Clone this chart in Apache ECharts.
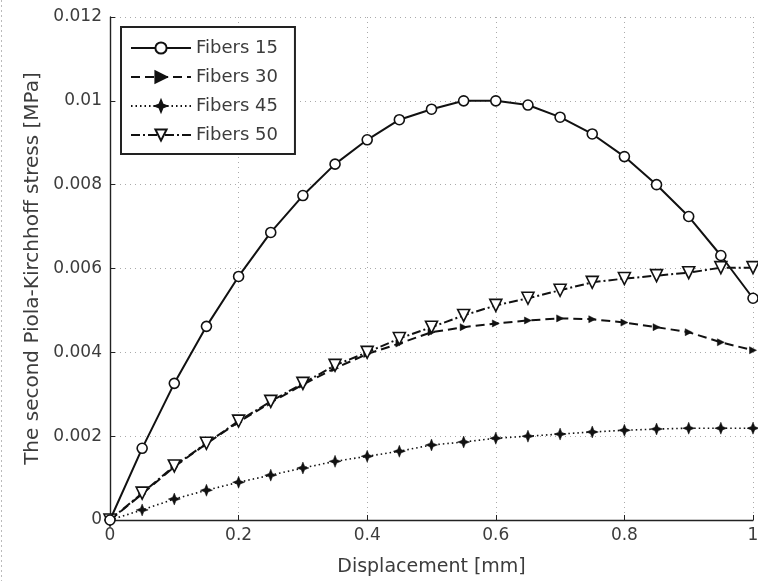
<!DOCTYPE html>
<html>
<head>
<meta charset="utf-8">
<style>html,body{margin:0;padding:0;background:#fff}#c{width:758px;height:581px}</style>
<script src="https://cdn.jsdelivr.net/npm/echarts@6/dist/echarts.min.js"></script>
</head>
<body>
<div id="c"></div>
<script>
var displacement = [0,0.05,0.1,0.15,0.2,0.25,0.3,0.35,0.4,0.45,0.5,0.55,0.6,0.65,0.7,0.75,0.8,0.85,0.9,0.95,1];
var fibers15 = [0,0.00171,0.00326,0.00462,0.00581,0.00686,0.00774,0.00849,0.00907,0.00955,0.0098,0.01,0.01,0.0099,0.00961,0.00921,0.00867,0.008,0.00724,0.00631,0.00529];
var fibers30 = [0,0.00062,0.00127,0.00182,0.00234,0.0028,0.00323,0.00362,0.00396,0.00421,0.00448,0.0046,0.00469,0.00476,0.00481,0.00479,0.00471,0.0046,0.00448,0.00424,0.00405];
var fibers45 = [0,0.00024,0.0005,0.00071,0.0009,0.00107,0.00124,0.0014,0.00152,0.00164,0.00179,0.00186,0.00195,0.002,0.00205,0.0021,0.00214,0.00217,0.00219,0.00219,0.00219];
var fibers50 = [0,0.00064,0.00129,0.00183,0.00236,0.00283,0.00326,0.00369,0.004,0.00433,0.0046,0.00488,0.00512,0.00529,0.00548,0.00567,0.00576,0.00583,0.0059,0.00602,0.00602];
var seriesNames = ['Fibers 15','Fibers 30','Fibers 45','Fibers 50'];
var xTicks = [0,0.2,0.4,0.6,0.8,1];
var yTicks = [0,0.002,0.004,0.006,0.008,0.01,0.012];

function pairs(ys){ return displacement.map(function(x,i){ return [x, ys[i]]; }); }

var txt = '#3c3c3c';
var font = 'DejaVu Sans';
var star = 'path://M0,-10 L2.8,-2.8 L10,0 L2.8,2.8 L0,10 L-2.8,2.8 L-10,0 L-2.8,-2.8 Z';

var chart = echarts.init(document.getElementById('c'));
chart.setOption({
  animation: false,
  backgroundColor: '#fff',
  textStyle: {fontFamily: font},
  grid: {left: 110, right: 5, top: 17, bottom: 61, containLabel: false, outerBoundsMode: 'none'},
  graphic: [{
    type: 'line', shape: {x1: 1.5, y1: 0, x2: 1.5, y2: 581},
    style: {stroke: '#bbb', lineWidth: 1, lineDash: [2, 3]}, silent: true
  }],
  legend: {
    orient: 'vertical', left: 121, top: 27,
    data: seriesNames,
    itemWidth: 60, itemHeight: 14, itemGap: 11,
    padding: [12, 17, 10, 9],
    borderColor: '#222', borderWidth: 2,
    backgroundColor: '#fff',
    textStyle: {fontSize: 18, color: txt, fontFamily: font}
  },
  xAxis: {
    type: 'value', min: 0, max: 1, interval: 0.2,
    name: 'Displacement [mm]', nameLocation: 'middle', nameGap: 38,
    nameTextStyle: {fontSize: 19, color: txt, fontFamily: font},
    axisLine: {onZero: false, lineStyle: {color: '#222', width: 1.4}},
    axisTick: {inside: true, length: 5, lineStyle: {color: '#222'}},
    axisLabel: {fontSize: 17, color: txt, margin: 7, fontFamily: font, formatter: function(v){ return String(+(+v).toFixed(4)); }},
    splitLine: {show: true, lineStyle: {color: '#aaa', type: [1, 4], width: 1}}
  },
  yAxis: {
    type: 'value', min: 0, max: 0.012, interval: 0.002,
    name: 'The second Piola-Kirchhoff stress [MPa]', nameLocation: 'middle', nameGap: 64,
    nameTextStyle: {fontSize: 20, color: txt, fontFamily: font},
    axisLine: {show: true, onZero: false, lineStyle: {color: '#222', width: 1.4}},
    axisTick: {show: true, inside: true, length: 5, lineStyle: {color: '#222'}},
    axisLabel: {fontSize: 17, color: txt, margin: 8, fontFamily: font, formatter: function(v){ return String(+(+v).toFixed(4)); }},
    splitLine: {show: true, lineStyle: {color: '#aaa', type: [1, 4], width: 1}}
  },
  series: [
    {
      name: 'Fibers 15', type: 'line', data: pairs(fibers15),
      symbol: 'circle', symbolSize: 10, showAllSymbol: true,
      lineStyle: {color: '#111', width: 2, type: 'solid'},
      itemStyle: {color: '#fff', borderColor: '#111', borderWidth: 1.6},
      z: 4
    },
    {
      name: 'Fibers 30', type: 'line', data: pairs(fibers30),
      symbol: 'triangle', symbolRotate: -90, symbolSize: 7, showAllSymbol: true,
      lineStyle: {color: '#111', width: 2, type: [9, 5]},
      itemStyle: {color: '#111', borderColor: '#111', borderWidth: 0.5},
      z: 3
    },
    {
      name: 'Fibers 45', type: 'line', data: pairs(fibers45),
      symbol: star, symbolSize: 12, showAllSymbol: true,
      lineStyle: {color: '#111', width: 1.6, type: [1.5, 3]},
      itemStyle: {color: '#111', borderColor: '#111', borderWidth: 0.5},
      z: 3
    },
    {
      name: 'Fibers 50', type: 'line', data: pairs(fibers50),
      symbol: 'triangle', symbolRotate: 180, symbolSize: 12, showAllSymbol: true,
      lineStyle: {color: '#111', width: 2, type: [9, 3, 2, 3]},
      itemStyle: {color: '#fff', borderColor: '#111', borderWidth: 1.6},
      z: 3
    }
  ]
});
</script>
</body>
</html>
